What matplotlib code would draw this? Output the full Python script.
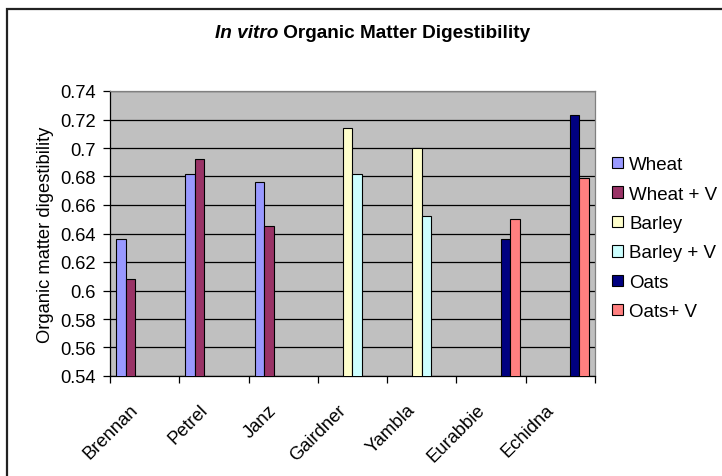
import numpy as np
import matplotlib
matplotlib.use("Agg")
import matplotlib.pyplot as plt
import matplotlib.transforms as mtransforms
from matplotlib.patches import Rectangle

# data
varieties = ["Brennan", "Petrel", "Janz", "Gairdner", "Yambla", "Eurabbie", "Echidna"]
series = ["Wheat", "Wheat + V", "Barley", "Barley + V", "Oats", "Oats+ V"]
colors = ["#9999FF", "#993366", "#FFFFCC", "#CCFFFF", "#000080", "#FF8080"]
wheat = [0.636, 0.682, 0.676, None, None, None, None]
wheat_v = [0.608, 0.692, 0.645, None, None, None, None]
barley = [None, None, None, 0.714, 0.700, None, None]
barley_v = [None, None, None, 0.682, 0.652, None, None]
oats = [None, None, None, None, None, 0.636, 0.723]
oats_v = [None, None, None, None, None, 0.650, 0.679]
yticks = [0.54, 0.56, 0.58, 0.6, 0.62, 0.64, 0.66, 0.68, 0.7, 0.72, 0.74]

plt.rcParams['font.family'] = ['Liberation Sans', 'DejaVu Sans']
FS = 13.2

W, H = 722, 477
fig = plt.figure(figsize=(W / 100, H / 100), dpi=100)

# outer chart frame (cropped on right and bottom)
fig.patches.append(Rectangle((7 / W, -0.1), 1.2, (H - 10) / H + 0.1,
                             transform=fig.transFigure, fill=False,
                             edgecolor="#222222", linewidth=1.6))

ax = fig.add_axes([110 / W, (H - 377) / H, 485 / W, 285 / H])
ax.set_facecolor("#C0C0C0")

all_series = [wheat, wheat_v, barley, barley_v, oats, oats_v]
x = np.arange(len(varieties))
bw = 0.137
for i, (vals, name, col) in enumerate(zip(all_series, series, colors)):
    xs = [xi + (i - 2.5) * bw for xi, v in zip(x, vals) if v is not None]
    vs = [v for v in vals if v is not None]
    ax.bar(xs, vs, width=bw, color=col, edgecolor="black", linewidth=0.8,
           label=name, zorder=3)

ax.set_xlim(-0.5, len(varieties) - 0.5)
ax.set_ylim(0.54, 0.74)
ax.set_yticks(yticks)
ax.set_yticklabels([f"{v:g}" for v in yticks])
ax.yaxis.grid(True, color="black", linewidth=0.9, zorder=1)
ax.set_axisbelow(True)

# category labels: rotated, sitting a bit left of the category centre
ax.set_xticks([])
ax.set_xticks(np.arange(len(varieties) + 1) - 0.5, minor=True)
lbl_trans = ax.get_xaxis_transform() + mtransforms.ScaledTranslation(
    -15 / 100, -25 / 100, fig.dpi_scale_trans)
for xi, name in zip(x, varieties):
    ax.text(xi, 0, name, transform=lbl_trans, rotation=45, ha="right",
            va="top", rotation_mode="anchor", fontsize=FS)
ax.tick_params(axis="x", which="minor", length=5, width=0.9, direction="out")
ax.tick_params(axis="y", length=5, width=0.9, direction="out", labelsize=FS, pad=5)

for s in ["left", "bottom"]:
    ax.spines[s].set_color("black")
    ax.spines[s].set_linewidth(0.9)
for s in ["top", "right"]:
    ax.spines[s].set_color("#808080")
    ax.spines[s].set_linewidth(0.9)

ax.set_ylabel("Organic matter digestibility", fontsize=FS, labelpad=5)

# title: italic part + normal part
t1 = fig.text(215 / W, 1 - 38 / H, "In vitro", fontsize=13.7, fontweight="bold",
              fontstyle="italic", ha="left", va="baseline")
ax.annotate(" Organic Matter Digestibility", xy=(1, 0), xycoords=t1,
            fontsize=13.7, fontweight="bold", ha="left", va="bottom")

ax.legend(loc="upper left", bbox_to_anchor=(603 / W, 1 - 148 / H),
          bbox_transform=fig.transFigure, frameon=False, fontsize=13.5,
          handlelength=0.55, handleheight=0.55, handletextpad=0.35,
          labelspacing=0.66, borderpad=0)

fig.savefig("out.png", dpi=100)
